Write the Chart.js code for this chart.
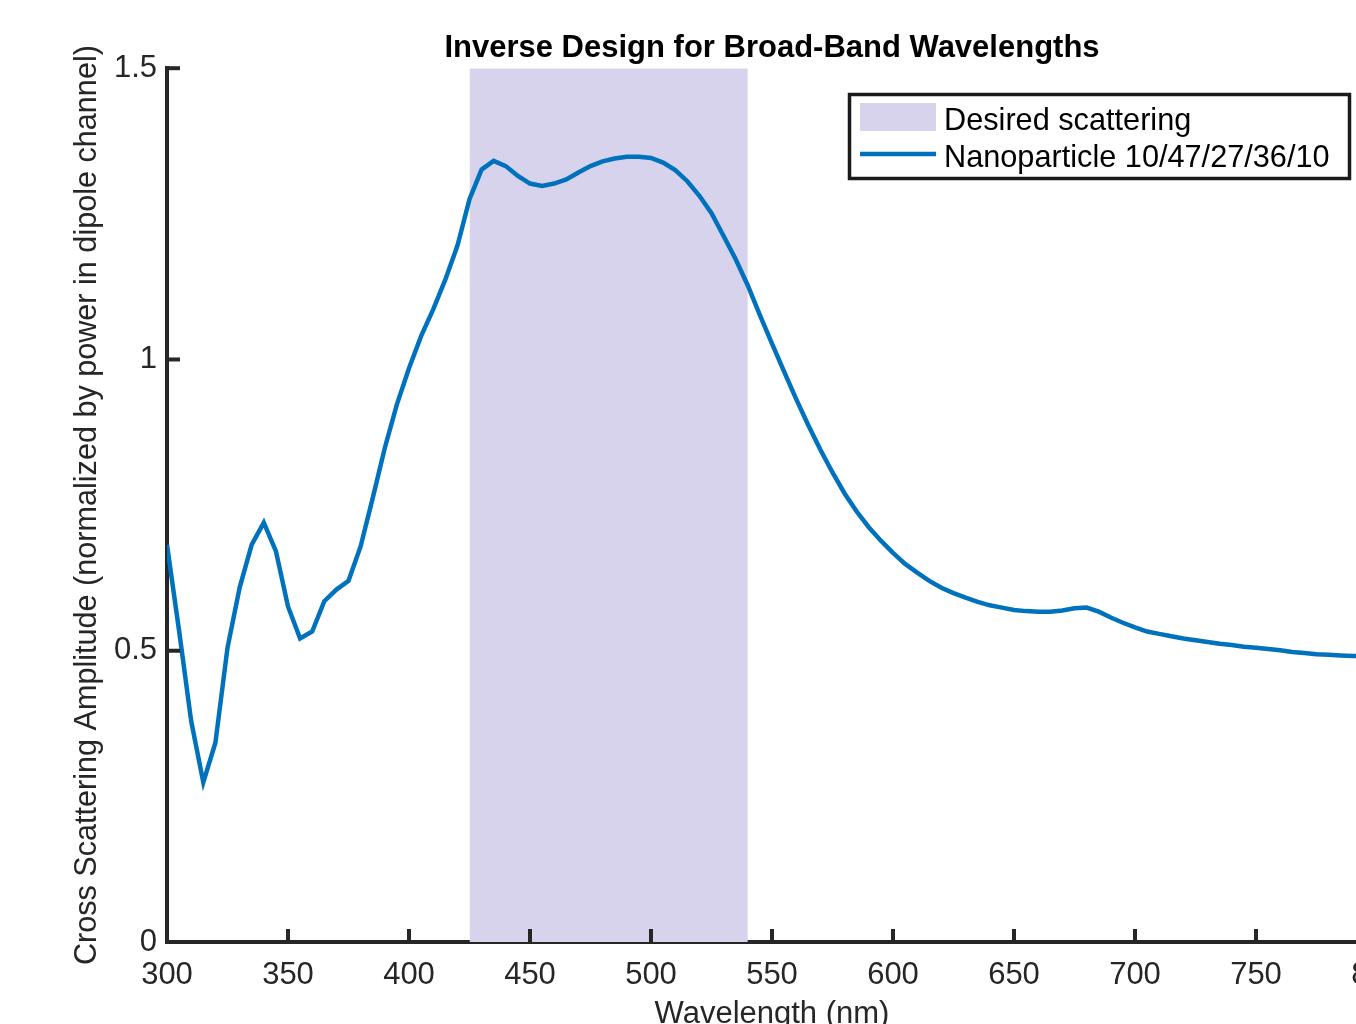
<!DOCTYPE html>
<html>
<head>
<meta charset="utf-8">
<script src="https://cdn.jsdelivr.net/npm/chart.js@4.4.1/dist/chart.umd.min.js"></script>
<style>
  html, body { margin: 0; padding: 0; background: #fff; overflow: hidden; }
  #wrap { width: 1356px; height: 1024px; overflow: hidden; }
</style>
</head>
<body>
<div id="wrap"><canvas id="grafico" width="1400" height="1050"></canvas></div>
<script>
// Dados
const comprimentos = [
  300, 305, 310, 315, 320, 325, 330, 335, 340, 345,
  350, 355, 360, 365, 370, 375, 380, 385, 390, 395,
  400, 405, 410, 415, 420, 425, 430, 435, 440, 445,
  450, 455, 460, 465, 470, 475, 480, 485, 490, 495,
  500, 505, 510, 515, 520, 525, 530, 535, 540, 545,
  550, 555, 560, 565, 570, 575, 580, 585, 590, 595,
  600, 605, 610, 615, 620, 625, 630, 635, 640, 645,
  650, 655, 660, 665, 670, 675, 680, 685, 690, 695,
  700, 705, 710, 715, 720, 725, 730, 735, 740, 745,
  750, 755, 760, 765, 770, 775, 780, 785, 790, 795, 800
];
const amplitude = [
  0.682, 0.534, 0.379, 0.274, 0.342, 0.505, 0.608, 0.682, 0.720, 0.671,
  0.576, 0.521, 0.533, 0.585, 0.605, 0.620, 0.679, 0.762, 0.848, 0.923,
  0.985, 1.040, 1.086, 1.137, 1.195, 1.275, 1.326, 1.341, 1.332, 1.315,
  1.302, 1.298, 1.302, 1.309, 1.321, 1.332, 1.340, 1.345, 1.348, 1.348,
  1.346, 1.338, 1.325, 1.306, 1.281, 1.251, 1.212, 1.172, 1.127, 1.076,
  1.027, 0.979, 0.932, 0.887, 0.845, 0.806, 0.770, 0.739, 0.712, 0.689,
  0.668, 0.649, 0.634, 0.620, 0.608, 0.599, 0.591, 0.584, 0.578, 0.574,
  0.570, 0.568, 0.567, 0.567, 0.569, 0.573, 0.574, 0.567, 0.557, 0.548,
  0.540, 0.533, 0.529, 0.525, 0.521, 0.518, 0.515, 0.512, 0.510, 0.507,
  0.505, 0.503, 0.501, 0.498, 0.496, 0.494, 0.493, 0.492, 0.491, 0.491, 0.490
];
// Faixa desejada (nm) e altura
const faixaX = [425, 540];
const faixaY = [1.5, 1.5];
const ticksX = [300, 350, 400, 450, 500, 550, 600, 650, 700, 750, 800];
const ticksY = [0, 0.5, 1, 1.5];
const rotulos = ['Desired scattering', 'Nanoparticle 10/47/27/36/10'];

const fonte = 'Helvetica, "Liberation Sans", Arial, sans-serif';
const corEixo = '#262626';
const corLinha = '#0072BD';
const corFaixa = '#d7d3ec';

// Ticks para dentro, estilo MATLAB
const ticksPlugin = {
  id: 'ticksDentro',
  afterDraw(chart) {
    const { ctx, chartArea, scales } = chart;
    ctx.save();
    ctx.strokeStyle = corEixo;
    ctx.lineWidth = 4;
    ticksX.forEach(v => {
      const px = scales.x.getPixelForValue(v);
      ctx.beginPath();
      ctx.moveTo(px, chartArea.bottom);
      ctx.lineTo(px, chartArea.bottom - 13);
      ctx.stroke();
    });
    ticksY.forEach(v => {
      const py = scales.y.getPixelForValue(v);
      ctx.beginPath();
      ctx.moveTo(chartArea.left, py);
      ctx.lineTo(chartArea.left + 13, py);
      ctx.stroke();
    });
    ctx.restore();
  }
};

// Legenda com caixa
const legendaPlugin = {
  id: 'legendaCaixa',
  afterDraw(chart) {
    const { ctx } = chart;
    ctx.save();
    ctx.fillStyle = '#fff';
    ctx.fillRect(848, 93, 503, 87);
    ctx.strokeStyle = '#1a1a1a';
    ctx.lineWidth = 3.5;
    ctx.strokeRect(849.5, 94.5, 500, 84);
    ctx.fillStyle = corFaixa;
    ctx.fillRect(860, 103, 76, 28);
    ctx.strokeStyle = corLinha;
    ctx.lineWidth = 4.5;
    ctx.beginPath();
    ctx.moveTo(860, 154);
    ctx.lineTo(936, 154);
    ctx.stroke();
    ctx.fillStyle = '#000';
    ctx.font = '30.7px ' + fonte;
    ctx.textBaseline = 'alphabetic';
    ctx.fillText(rotulos[0], 944, 130);
    ctx.fillText(rotulos[1], 944, 167);
    ctx.restore();
  }
};

const grafico = document.getElementById('grafico');
new Chart(grafico, {
  type: 'line',
  data: {
    datasets: [
      {
        label: rotulos[1],
        data: comprimentos.map((w, i) => ({ x: w, y: amplitude[i] })),
        borderColor: corLinha,
        borderWidth: 4.5,
        pointRadius: 0,
        tension: 0,
        fill: false,
        order: 1
      },
      {
        label: rotulos[0],
        data: faixaX.map((w, i) => ({ x: w, y: faixaY[i] })),
        borderWidth: 0,
        borderColor: 'rgba(0,0,0,0)',
        backgroundColor: corFaixa,
        pointRadius: 0,
        fill: 'origin',
        order: 2
      }
    ]
  },
  options: {
    responsive: false,
    animation: false,
    devicePixelRatio: 1,
    layout: { padding: { left: 0, right: 23, top: 0, bottom: 0 } },
    plugins: {
      legend: { display: false },
      tooltip: { enabled: false },
      title: {
        display: true,
        fullSize: false,
        text: 'Inverse Design for Broad-Band Wavelengths',
        color: '#000',
        font: { family: fonte, size: 31, weight: 'bold', lineHeight: 1.2 },
        padding: { top: 30, bottom: 1 }
      }
    },
    scales: {
      x: {
        type: 'linear',
        min: 300,
        max: 800,
        afterFit(scale) {
          scale.height = 108;
          scale.paddingLeft = 0;
          scale.paddingRight = 0;
        },
        grid: { display: false, drawTicks: false },
        border: { display: true, color: corEixo, width: 4 },
        ticks: {
          stepSize: 50,
          padding: 15,
          color: corEixo,
          font: { family: fonte, size: 31 }
        },
        title: {
          display: true,
          text: 'Wavelength (nm)',
          color: corEixo,
          font: { family: fonte, size: 31, lineHeight: 1.2 },
          padding: { top: 0, bottom: 17 }
        }
      },
      y: {
        min: 0,
        max: 1.5,
        afterFit(scale) {
          scale.width = 167;
          scale.paddingTop = 0;
          scale.paddingBottom = 0;
        },
        grid: { display: false, drawTicks: false },
        border: { display: true, color: corEixo, width: 4 },
        ticks: {
          stepSize: 0.5,
          padding: 10,
          color: corEixo,
          font: { family: fonte, size: 31 },
          callback: v => String(v)
        },
        title: {
          display: true,
          text: 'Cross Scattering Amplitude (normalized by power in dipole channel)',
          color: corEixo,
          font: { family: fonte, size: 30.6, lineHeight: 1.2 },
          padding: { top: 69, bottom: 0 }
        }
      }
    }
  },
  plugins: [ticksPlugin, legendaPlugin]
});
</script>
</body>
</html>
